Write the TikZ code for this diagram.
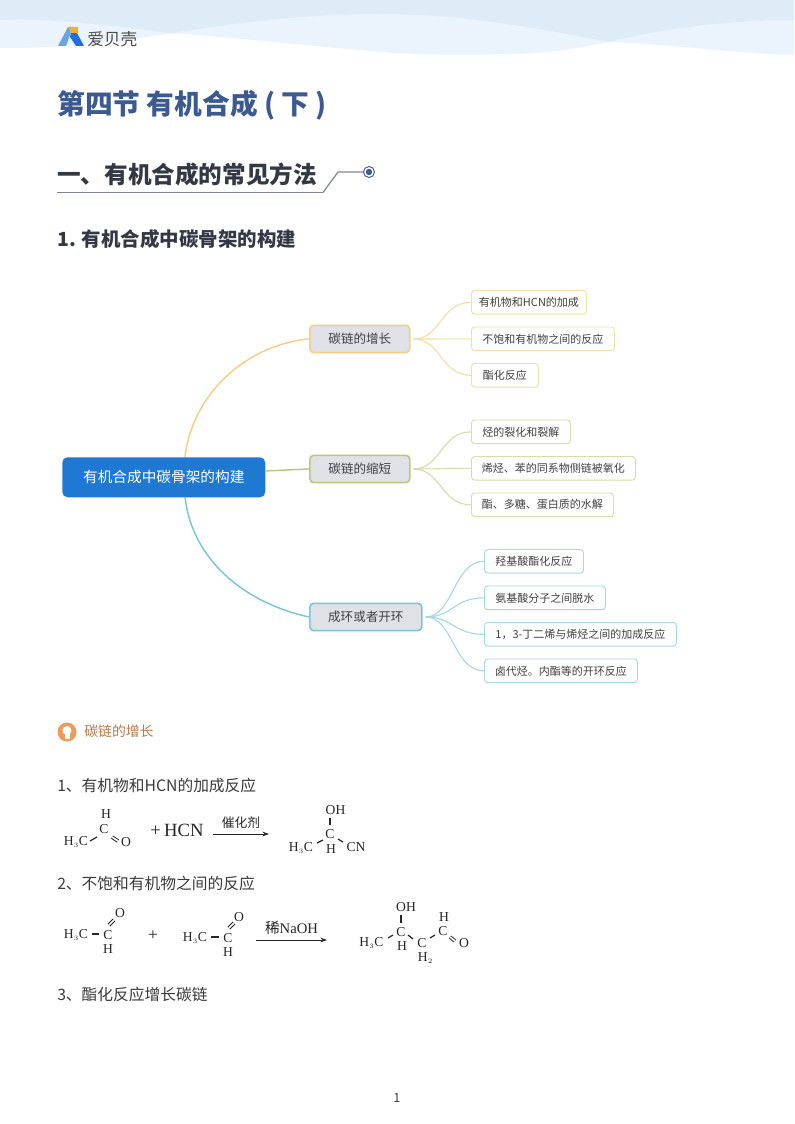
\documentclass[tikz,border=0pt]{standalone}
\usepackage{fontspec}
\setmainfont{Liberation Serif}
\newfontfamily\cjk{Noto Sans CJK SC}
\usetikzlibrary{calc,arrows.meta}
\definecolor{titleblue}{HTML}{3C5A8F}
\definecolor{headdark}{HTML}{333845}
\definecolor{bodyc}{HTML}{3A3A3A}
\definecolor{ruleg}{HTML}{7F8398}
\definecolor{wavea}{HTML}{DDECF7}
\definecolor{waveb}{HTML}{EBF4FC}
\definecolor{mainb}{HTML}{1F78D1}
\definecolor{bfill}{HTML}{DFE1E6}
\definecolor{oa}{HTML}{F6CE85}
\definecolor{ol}{HTML}{F2DFA8}
\definecolor{ga}{HTML}{BCC67E}
\definecolor{gl}{HTML}{DADBAA}
\definecolor{ba}{HTML}{7CC5D6}
\definecolor{bl}{HTML}{A8D8E2}
\definecolor{lamp}{HTML}{EE9A5B}
\definecolor{lampt}{HTML}{B87A4E}
\definecolor{logol}{HTML}{6AA5E3}
\definecolor{logor}{HTML}{1E6FE0}
\definecolor{logoo}{HTML}{F2B22E}
\tikzset{
 x=0.75pt,y=-0.75pt,
 mapbox/.style={rounded corners=3pt,line width=1.2pt,fill=bfill,anchor=north west,inner sep=0pt,text=black!75,font=\cjk\fontsize{9.4}{11}\selectfont,align=center},
 leaf/.style={rounded corners=2.5pt,line width=.7pt,fill=white,anchor=north west,inner sep=0pt,text=black!75,font=\cjk\fontsize{8.25}{10}\selectfont,align=center},
 conn/.style={line width=1.1pt},
 chem/.style={font=\fontsize{10.2}{11}\selectfont,inner sep=0pt,text=black!85},
 bond/.style={line width=.9pt,black!85},
 dbl/.style={double,double distance=1.3pt,line width=.7pt,black!85},
 arrowline/.style={line width=.6pt,black!85,-{Stealth[length=5pt,width=3.5pt]}},
 heading/.style={anchor=west,inner sep=0pt},
 bodytext/.style={anchor=west,inner sep=0pt,text=bodyc,font=\cjk\fontsize{11.8}{14}\selectfont},
}
\begin{document}
\begin{tikzpicture}
\useasboundingbox (0,0) rectangle (794,1124);
\fill[white] (0,0) rectangle (794,1124);
% header waves
\fill[waveb] (0,0) -- (794,0) -- (794,55) .. controls (730,53) and (670,44) .. (608,42)
 .. controls (570,50) and (540,54) .. (506,54) .. controls (470,55) and (430,55) .. (395,53)
 .. controls (320,47) and (240,38) .. (172,33) .. controls (110,44) and (60,48) .. (0,48) -- cycle;
\fill[wavea] (0,0) -- (794,0) -- (794,20) .. controls (720,20) and (660,30) .. (608,42)
 .. controls (540,28) and (460,14) .. (380,14) .. controls (300,14) and (230,24) .. (172,33)
 .. controls (110,26) and (60,18) .. (0,20) -- cycle;
% logo
\fill[logol] (58,46) -- (68,27) -- (73,27) -- (66,46) -- cycle;
\fill[logor] (71,33) -- (77,33) -- (84,46) -- (76,46) -- (70,37) -- cycle;
\fill[logoo] (68,27) -- (78,27) -- (78,33) -- (71,33) -- cycle;
\node[anchor=west,inner sep=0pt,text=black!70,font=\cjk\fontsize{12.5}{14}\selectfont] (logo) at (87,39.5) {爱贝壳};
% titles
\node[heading,text=titleblue,font=\cjk\bfseries\fontsize{20.8}{24}\selectfont] (title) at (57,105.5) {第四节 有机合成 ( 下 )};
\node[heading,text=headdark,font=\cjk\bfseries\fontsize{17.7}{22}\selectfont] (sec) at (57,175) {一、有机合成的常见方法};
\draw[ruleg,line width=1.3pt] (57,192.5) -- (323,192.5);
\draw[ruleg,line width=.9pt] (323,192.5) -- (338,172) -- (363,172);
\draw[titleblue,line width=.7pt,fill=white] (369,172) circle (5.5);
\fill[titleblue] (369,172) circle (3.2);
\node[heading,text=headdark,font=\cjk\bfseries\fontsize{14.6}{18}\selectfont] (sub) at (57,239) {1. 有机合成中碳骨架的构建};
% map nodes
\node[fill=mainb,rounded corners=4pt,anchor=north west,minimum width=152.25pt,minimum height=30pt,inner sep=0pt,text=white,font=\cjk\fontsize{11}{13}\selectfont] (main) at (62,457) {有机合成中碳骨架的构建};
\coordinate (maintop) at (185,457);
\coordinate (mainbot) at (185,497);
\coordinate (mainright) at (265,471);
\node[mapbox,draw=oa,minimum width=75pt,minimum height=20.5pt] (b1) at (309,324.5) {碳链的增长};
\node[mapbox,draw=ga,minimum width=75pt,minimum height=20.5pt] (b2) at (309,454.5) {碳链的缩短};
\node[mapbox,draw=ba,minimum width=84pt,minimum height=20.5pt] (b3) at (309,602.5) {成环或者开环};
\foreach \n/\x/\y/\w/\c/\t in {
 l1/471/290/115/ol/有机物和HCN的加成,
 l2/471/326.5/143/ol/不饱和有机物之间的反应,
 l3/471/363/67/ol/酯化反应,
 l4/471/419.5/99/gl/烃的裂化和裂解,
 l5/471/456/164/gl/烯烃、苯的同系物侧链被氧化,
 l6/471/492.5/142/gl/酯、多糖、蛋白质的水解,
 l7/484/549/99/bl/羟基酸酯化反应,
 l8/484/585.5/121/bl/氨基酸分子之间脱水,
 l9/484/622/192/bl/{1，3-丁二烯与烯烃之间的加成反应},
 l10/484/658.5/153/bl/卤代烃。内酯等的开环反应}
 {\node[leaf,draw=\c,minimum width=\w*0.75pt,minimum height=17.8pt] (\n) at (\x,\y) {\t};}
% connectors
\draw[conn,oa] (maintop) .. controls (192,395) and (245,345) .. (b1.west);
\draw[conn,ga] (mainright) -- (b2.west);
\draw[conn,ba] (mainbot) .. controls (192,560) and (245,603) .. (b3.west);
\foreach \b/\c/\ls in {b1/ol/{l1,l2,l3},b2/gl/{l4,l5,l6},b3/bl/{l7,l8,l9,l10}}{
 \foreach \l in \ls {
  \coordinate (midc) at ($(\b.east)!.5!(\l.west)$);
  \coordinate (startc) at ($(\b.east)+(3,0)$);
  \draw[\c,line width=.85pt] (startc) .. controls (midc|-\b.east) and (midc|-\l.west) .. (\l.west);
 }
}
% tip
\fill[lamp] (67,732) circle (9.5);
\fill[white] (67,730.5) circle (4.5);
\fill[white] (64.5,734) rectangle (69.5,738.5);
\node[anchor=west,inner sep=0pt,text=lampt,font=\cjk\fontsize{10.4}{12}\selectfont] (tip) at (84,731.5) {碳链的增长};
% body
\node[bodytext] (t1) at (57,786) {1、有机物和HCN的加成反应};
\node[bodytext] (t2) at (57,884) {2、不饱和有机物之间的反应};
\node[bodytext] (t3) at (57,995) {3、酯化反应增长碳链};
% reaction 1
\node[chem] (a1) at (76,842) {H$_{\scriptscriptstyle 3}$C};
\node[chem] (a2) at (104,829) {C};
\node[chem] (a3) at (106,814) {H};
\node[chem] (a4) at (126,842) {O};
\draw[bond] (90,841) -- (97,837);
\draw[dbl] (112,837) -- (118,841);
\node[chem,font=\fontsize{14}{16}\selectfont] (hcn) at (177,830.5) {+\,HCN};
\node[chem,font=\cjk\fontsize{9.6}{11}\selectfont] (cat) at (241,822.5) {催化剂};
\coordinate (r1a) at (213,834);
\coordinate (r1b) at (269,834);
\draw[arrowline] (r1a) -- (r1b);
\node[chem] (c0) at (335.5,810) {OH};
\node[chem] (c1) at (330,834) {C};
\node[chem] (c2) at (301,847.5) {H$_{\scriptscriptstyle 3}$C};
\node[chem] (c3) at (331,849) {H};
\node[chem] (c4) at (356,847) {CN};
\draw[bond] (330,818) -- (330,825);
\draw[bond] (317,843) -- (323,840);
\draw[bond] (338,839) -- (343,842);
% reaction 2
\node[chem] (d1) at (76,935) {H$_{\scriptscriptstyle 3}$C};
\node[chem] (d2) at (108,935) {C};
\node[chem] (d3) at (108,949) {H};
\node[chem] (d4) at (120,913) {O};
\draw[bond] (92,934) -- (99,934);
\draw[dbl] (109,925) -- (114,920);
\node[chem,font=\fontsize{13}{15}\selectfont] (plus) at (153,936) {+};
\node[chem] (e1) at (195,938) {H$_{\scriptscriptstyle 3}$C};
\node[chem] (e2) at (228,938) {C};
\node[chem] (e3) at (228,952) {H};
\node[chem] (e4) at (239,917) {O};
\draw[bond] (211,937) -- (219,937);
\draw[dbl] (229,928) -- (234,923);
\node[chem,font=\fontsize{11}{12}\selectfont] (cat2) at (291.5,928) {{\cjk 稀}NaOH};
\coordinate (r2a) at (256,940);
\coordinate (r2b) at (327,940);
\draw[arrowline] (r2a) -- (r2b);
\node[chem] (f0) at (406,907) {OH};
\node[chem] (f1) at (401,932) {C};
\node[chem] (f2) at (371.5,943) {H$_{\scriptscriptstyle 3}$C};
\node[chem] (f3) at (402,946) {H};
\node[chem] (f4) at (422,943) {C};
\node[chem] (f5) at (425.5,958.5) {H$_{\scriptscriptstyle 2}$};
\node[chem] (f6) at (443,931) {C};
\node[chem] (f7) at (444,917) {H};
\node[chem] (f8) at (464,943) {O};
\draw[bond] (401,915) -- (401,923);
\draw[bond] (388,938) -- (393,935);
\draw[bond] (408,935) -- (413,939);
\draw[bond] (430,938) -- (435,935);
\draw[dbl] (450,937) -- (455,941);
% page number
\node[inner sep=0pt,text=black!75,font=\cjk\fontsize{9.5}{11}\selectfont] (pg) at (397,1098) {1};
\end{tikzpicture}
\end{document}
